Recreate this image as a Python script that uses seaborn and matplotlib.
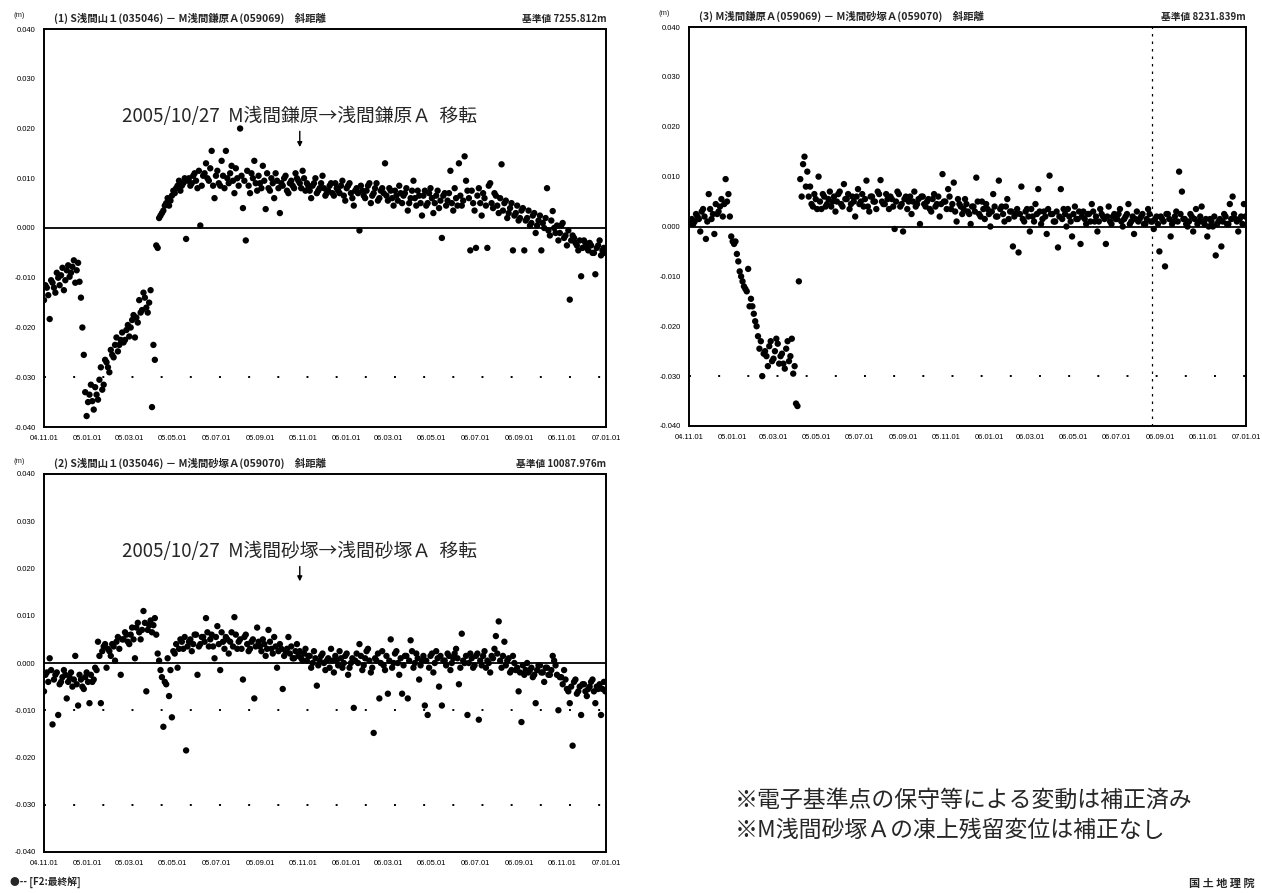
import numpy as np
import pandas as pd
import matplotlib
matplotlib.use("Agg")
import matplotlib.pyplot as plt
import seaborn as sns

sns.set_theme(style="white")
plt.rcParams["font.family"] = ["Noto Sans CJK JP", "DejaVu Sans"]

# observations: set A on days 0,4,8,... and set B on days 2,6,10,... from 2004-11-01
start = pd.Timestamp("2004-11-01")
end = pd.Timestamp("2007-01-01")
step_days = 4
offset_b = 2

# (1) S浅間山1 - M浅間鎌原A  [mm]
p1_mm = [-14.5, -12.0, -18.3, -11.0, -13.0, -10.0, -9.5, -12.5, -8.5, -9.8,
         -7.8, -11.0, -7.0, -14.0, -25.5, -37.8, -33.5, -34.8, -32.0, -34.5,
         -28.0, -31.5, -27.0, -29.0, -25.5, -23.5, -24.8, -22.5, -23.0, -20.5,
         -21.8, -18.5, -22.0, -19.0, -17.0, -13.0, -16.0, -15.0, -36.0, -26.5,
         -4.0, 2.5, 3.5, 5.0, 4.5, 6.5, 7.0, 8.5, 7.5, 9.0,
         -2.2, 10.0, 9.0, 11.0, 8.0, 0.5, 10.5, 13.0, 9.5, 15.5,
         6.0, 11.5, 8.5, 10.5, 15.5, 9.0, 12.5, 7.0, 10.0, 20.0,
         4.0, -2.5, 8.5, 11.0, 13.5, 7.5, 9.0, 12.5, 3.8, 8.0,
         10.0, 6.0, 9.5, 3.0, 8.5, 10.5, 7.0, 9.5, 8.0, 10.0,
         9.0, 11.5, 7.5, 8.5, 6.0, 9.0, 7.0, 8.0, 10.5, 6.5,
         7.5, 9.0, 6.5, 8.0, 7.0, 9.5, 5.5, 8.5, 7.0, 4.5,
         8.0, -0.5, 7.5, 6.0, 8.5, 5.0, 7.0, 9.0, 6.0, 8.0,
         13.0, 5.5, 7.5, 4.5, 6.5, 8.5, 5.0, 7.0, 3.5, 6.0,
         9.5, 4.5, 6.5, 2.5, 7.5, 5.0, 8.0, 3.0, 6.5, 4.0,
         -2.0, 7.0, 5.5, 11.5, 3.5, 6.0, 13.0, 4.5, 14.4, 7.5,
         -4.5, 5.0, -4.0, 8.0, 2.5, 6.0, -4.0, 9.0, 4.0, 6.5,
         3.0, 12.8, 5.0, 2.0, 4.0, -4.5, 3.0, 1.5, 3.5, -4.5,
         2.0, 0.5, 2.5, -1.0, 1.5, -4.5, 0.0, 8.0, -1.5, 3.4,
         -1.0, -2.5, 0.5, -2.0, -3.5, -14.4, -1.5, -3.0, -4.5, -9.7,
         -2.5, -4.0, -3.0, -5.0, -9.3, -3.5, -5.5, -4.0]
p1b_mm = [-11.5, -13.5, -10.5, -12.0, -9.0, -11.5, -8.0, -10.5, -7.5, -9.0,
          -6.5, -8.5, -10.8, -20.0, -33.0, -35.0, -31.5, -36.5, -33.5, -30.5,
          -32.5, -26.5, -28.0, -24.5, -26.0, -22.0, -23.5, -21.0, -22.5, -19.5,
          -20.0, -17.5, -18.0, -14.5, -16.5, -14.0, -17.0, -12.5, -23.5, -3.5,
          2.0, 3.0, 4.5, 6.0, 5.5, 7.5, 8.0, 9.5, 8.5, 10.0,
          9.5, 8.5, 10.5, 9.5, 11.5, 8.5, 11.0, 10.0, 12.0, 8.5,
          10.5, 9.0, 13.5, 8.0, 10.0, 11.0, 9.5, 12.0, 8.5, 10.5,
          9.5, 11.5, 7.0, 10.0, 9.0, 10.5, 8.0, 9.5, 11.0, 7.5,
          9.0, 11.0, 8.0, 9.0, 10.0, 7.5, 9.0, 8.5, 11.0, 9.5,
          8.0, 10.0, 9.0, 7.5, 8.5, 10.0, 7.5, 9.0, 8.0, 7.0,
          8.5, 7.0, 9.0, 7.5, 8.5, 6.5, 8.0, 9.0, 6.0, 7.5,
          7.0, 8.5, 6.5, 7.5, 9.0, 6.5, 8.0, 5.5, 7.5, 7.0,
          6.5, 8.0, 6.0, 7.5, 5.5, 7.0, 6.5, 8.0, 5.0, 7.5,
          6.0, 7.5, 5.0, 6.5, 4.5, 7.0, 6.0, 5.0, 7.5, 5.5,
          6.5, 4.5, 7.0, 5.0, 8.0, 4.5, 6.5, 5.5, 9.5, 6.0,
          7.5, 3.5, 6.5, 5.0, 7.0, 4.5, 8.5, 5.0, 7.0, 4.5,
          6.0, 3.5, 5.5, 3.0, 5.0, 2.5, 4.5, 2.0, 4.0, 1.5,
          3.5, 1.0, 3.0, 0.5, 2.5, 1.0, 2.0, -0.5, 1.5, 0.0,
          0.5, -1.0, 1.0, -1.5, -0.5, -2.5, -2.0, -3.5, -2.5, -4.0,
          -3.0, -4.5, -3.5, -5.0, -4.0, -2.5, -4.5, -5.0]

# (2) S浅間山1 - M浅間砂塚A  [mm]
p2_mm = [-6.0, -2.0, 1.0, -13.0, -2.5, -11.0, -4.0, -1.5, -7.5, -3.0,
         -5.0, 1.5, -9.0, -3.5, -5.5, -2.0, -8.5, -4.0, -1.0, 4.5,
         -8.5, 3.5, -1.0, 2.5, 4.0, 0.5, 5.5, -2.5, 5.0, 6.0,
         4.0, 7.5, 1.0, 8.5, 5.0, 11.0, -6.0, 8.0, 6.5, 9.5,
         2.0, -1.5, -13.5, -4.5, -7.0, -11.5, 2.0, -1.0, 5.0, 3.0,
         -18.5, 4.5, 2.5, 6.0, -2.5, 4.0, 5.5, 9.5, 3.5, 6.0,
         1.0, 7.8, -1.5, 4.5, 5.5, 2.0, 6.5, 9.7, 3.0, 5.0,
         -3.5, 6.0, 2.5, 4.5, -7.5, 7.5, 3.5, 5.0, 1.5, 7.0,
         3.0, 5.5, -1.0, 4.0, -5.5, 2.5, 5.5, 3.5, 1.0, 4.0,
         2.5, 0.5, 3.0, 1.5, -1.0, 2.5, -4.8, 0.5, 2.0, -1.5,
         1.0, 3.0, -2.0, 0.5, 2.5, -1.0, 1.5, -2.5, 0.0, -9.5,
         2.0, 4.0, -1.5, 1.0, 3.0, -2.0, -14.8, 0.5, -7.5, 2.5,
         -1.5, -6.5, 5.0, 0.0, 2.5, -2.5, -6.5, 1.5, -7.5, 4.8,
         -1.0, 2.0, -3.5, 0.5, -9.0, -11.0, 1.5, -2.0, 2.5, -5.0,
         -9.0, 0.5, 2.0, -1.5, 1.0, 3.0, -4.5, 6.2, 0.0, -11.0,
         2.0, -1.0, 1.5, -12.0, -0.5, 2.5, 0.5, -2.0, 1.0, 5.7,
         8.8, -1.0, 4.5, 0.5, -2.0, 1.5, -1.5, -6.0, -12.5, -2.5,
         0.0, -1.5, -3.0, -8.5, -0.5, -2.0, -4.0, -1.0, -2.5, 1.5,
         -0.5, -10.0, -3.0, -1.5, -5.5, -8.5, -17.5, -3.5, -6.0, -11.0,
         -4.5, -7.0, -5.0, -3.5, -8.5, -5.5, -11.0, -4.0]
p2b_mm = [-2.5, -4.0, -1.5, -3.5, -2.0, -4.5, -3.0, -2.5, -4.0, -2.0,
          -3.5, -4.5, -2.5, -5.0, -3.0, -4.0, -2.5, -3.5, -1.5, 1.5,
          2.5, 4.0, 3.0, 1.5, 3.5, 4.5, 3.0, 5.0, 6.5, 4.5,
          6.0, 5.0, 7.5, 6.5, 7.0, 8.5, 7.0, 9.0, 8.0, 6.0,
          0.5, -3.0, -4.0, 1.0, -1.5, 2.5, 4.0, 3.0, 4.5, 5.5,
          3.5, 5.0, 4.0, 6.0, 3.5, 5.5, 4.5, 6.5, 5.0, 3.5,
          5.5, 4.0, 6.5, 3.0, 5.0, 4.5, 3.5, 6.0, 4.5, 3.0,
          5.5, 4.0, 3.0, 5.0, 3.5, 4.5, 2.5, 4.0, 3.0, 4.5,
          2.0, 3.5, 2.5, 3.0, 1.5, 3.0, 2.0, 1.0, 2.5, 1.5,
          1.0, 2.0, 0.5, 1.5, 0.0, 1.0, -0.5, 1.5, 0.0, 0.5,
          -1.0, 0.5, 1.5, -0.5, 1.0, 0.0, 2.0, -1.0, 1.0, 0.5,
          0.0, 1.5, -0.5, 2.5, 0.5, -1.0, 1.0, 2.0, 0.0, -0.5,
          1.5, 0.5, -1.0, 2.0, 0.0, 1.0, -0.5, 1.5, 0.5, 2.5,
          0.0, 1.0, -0.5, 1.5, 0.5, -1.0, 2.0, 0.0, 1.0, 1.5,
          0.5, -0.5, 1.5, 0.0, 2.0, 1.0, -1.0, 0.5, 1.5, 0.0,
          1.0, -0.5, 2.0, 0.5, 1.5, -1.0, 0.0, 1.5, 3.0, 2.0,
          0.5, 1.5, -0.5, 1.0, -1.5, 0.0, -1.0, -2.0, -0.5, -1.5,
          -2.0, -1.0, -2.5, -1.5, -0.5, -2.0, -1.0, -2.5, -1.5, 0.5,
          -2.5, -3.0, -4.5, -3.5, -6.0, -5.0, -4.0, -6.5, -5.0, -4.5,
          -6.0, -5.5, -4.0, -6.0, -5.0, -4.5, -5.5, -6.0]

# (3) M浅間鎌原A - M浅間砂塚A  [mm]
p3_mm = [0.5, 1.5, 1.0, 2.0, -1.0, 3.5, -2.5, 6.5, 1.5, -1.5,
         2.5, 4.0, 2.0, 9.5, 6.5, -2.0, -3.5, -5.5, -9.0, -11.0,
         -12.5, -8.5, -14.5, -17.5, -20.0, -24.5, -30.0, -25.0, -28.0, -23.0,
         -26.5, -22.5, -27.5, -25.5, -28.5, -23.0, -26.0, -29.5, -35.5, -11.0,
         6.0, 14.0, 11.0, 8.0, 4.0, 5.5, 10.0, 3.5, 6.0, 4.5,
         7.0, 5.0, 3.0, 6.5, 4.5, 8.5, 5.5, 3.5, 6.0, 2.0,
         7.5, 5.0, 4.0, 9.2, 3.0, 6.0, 5.0, 7.0, 9.3, 4.5,
         6.5, 3.5, 5.5, -0.5, 7.0, 4.0, -1.0, 6.0, 5.0, 2.5,
         7.0, 4.5, 0.5, 6.0, 4.0, 5.5, 3.0, 6.5, 4.5, 2.0,
         10.5, 5.0, 7.5, 3.5, 8.8, 1.0, 4.5, 2.5, 5.5, 3.0,
         0.5, 4.0, 9.8, 2.5, 5.0, 1.5, 3.5, 0.0, 6.5, 2.0,
         9.2, 4.0, 1.0, 5.5, 3.0, -4.0, 2.5, -5.2, 8.0, 1.0,
         3.5, -1.0, 2.0, 4.5, 7.5, 0.5, 3.0, -1.5, 10.2, 2.5,
         1.0, -4.2, 7.5, 3.5, 0.0, 2.0, -2.0, 4.0, 1.5, -3.5,
         3.0, 0.5, 2.5, 4.5, 1.0, -1.0, 3.5, 2.0, -3.5, 4.0,
         0.5, 2.5, 1.5, 3.5, 0.0, 2.0, 4.5, 1.0, -1.5, 3.0,
         1.5, 2.5, 0.5, 3.5, 1.0, -0.5, 2.0, -5.0, 1.5, -8.0,
         2.5, -2.0, 1.0, 3.0, 11.0, 7.0, 1.5, 0.0, 2.5, -1.0,
         3.5, 1.0, 4.0, 0.5, -2.0, 1.5, 0.0, -5.8, 1.0, -4.0,
         2.5, 0.5, 4.5, 6.0, 1.5, -1.0, 2.0, 4.5]
p3b_mm = [1.0, 0.5, 2.5, 1.5, 3.0, 2.0, 1.0, 3.5, 2.5, 4.5,
          3.0, 5.5, 4.5, 5.0, 2.0, -3.0, -3.0, -7.0, -10.0, -12.0,
          -13.0, -16.0, -16.0, -19.0, -22.0, -23.0, -25.5, -26.0, -24.0, -27.0,
          -25.0, -23.5, -26.0, -27.5, -24.5, -27.0, -22.5, -28.0, -36.0, 9.5,
          12.5, 8.0, 6.0, 4.5, 6.5, 3.5, 5.0, 6.5, 4.0, 5.5,
          4.0, 6.0, 5.0, 7.0, 4.0, 5.5, 6.5, 4.5, 5.0, 6.0,
          4.5, 6.5, 5.5, 4.0, 6.0, 5.0, 3.5, 6.5, 5.0, 4.5,
          5.5, 6.0, 4.0, 5.0, 6.5, 4.5, 5.5, 3.5, 6.0, 5.0,
          4.0, 5.5, 6.0, 4.5, 5.0, 3.5, 5.5, 4.0, 6.0, 4.5,
          5.0, 3.5, 6.0, 4.5, 3.0, 5.5, 4.0, 3.5, 4.5, 2.5,
          4.0, 3.0, 5.0, 2.0, 3.5, 4.5, 2.5, 3.0, 4.0, 2.0,
          3.5, 2.5, 4.0, 1.5, 3.0, 2.0, 3.5, 2.5, 1.5, 3.0,
          2.0, 3.5, 1.0, 2.5, 3.0, 1.5, 2.0, 3.5, 2.5, 1.0,
          3.0, 2.0, 1.5, 2.5, 3.5, 1.0, 2.5, 1.5, 3.0, 2.0,
          1.5, 2.5, 1.0, 3.0, 2.0, 1.0, 2.5, 1.5, 2.0, 1.0,
          2.0, 1.5, 2.5, 1.0, 1.5, 2.5, 0.5, 2.0, 1.5, 1.0,
          2.0, 0.5, 1.5, 2.5, 1.0, 1.5, 0.5, 2.0, 1.0, 2.5,
          1.5, 0.5, 2.0, 1.0, 2.5, 1.5, 0.5, 1.0, 2.0, 1.5,
          0.5, 2.0, 1.0, 1.5, 0.0, 1.0, 2.0, 0.5, 1.5, 1.0,
          2.0, 0.5, 1.5, 2.5, 1.0, 1.5, 0.5, 2.0]

titles = ["(1) S浅間山１(035046) － M浅間鎌原Ａ(059069)　斜距離",
          "(2) S浅間山１(035046) － M浅間砂塚Ａ(059070)　斜距離",
          "(3) M浅間鎌原Ａ(059069) － M浅間砂塚Ａ(059070)　斜距離"]
base_values = ["基準値 7255.812m", "基準値 10087.976m", "基準値 8231.839m"]
move_notes = ["2005/10/27  M浅間鎌原→浅間鎌原Ａ  移転",
              "2005/10/27  M浅間砂塚→浅間砂塚Ａ  移転", None]
move_date = pd.Timestamp("2005-10-27")
p3_vline = pd.Timestamp("2006-08-20")
y_ticks = [-0.04, -0.03, -0.02, -0.01, 0.0, 0.01, 0.02, 0.03, 0.04]
x_ticks = pd.date_range(start, end, freq="2MS")

W, H = 1262, 893
fig = plt.figure(figsize=(W / 100, H / 100), dpi=100)
fig.patch.set_facecolor("white")


def rect(l, t, r, b):
    return [l / W, 1 - b / H, (r - l) / W, (b - t) / H]


boxes = [rect(44, 29, 606, 427), rect(44, 474, 606, 852), rect(689, 27, 1246, 426)]
series = [(p1_mm, p1b_mm), (p2_mm, p2b_mm), (p3_mm, p3b_mm)]
dotted = [[-0.03], [-0.01, -0.03], [-0.03]]
note_y = [0.0225, 0.0235]

for k in range(3):
    ax = fig.add_axes(boxes[k])
    va = np.array(series[k][0]) / 1000.0
    vb = np.array(series[k][1]) / 1000.0
    da = start + pd.to_timedelta(np.arange(len(va)) * step_days, unit="D")
    db = start + pd.to_timedelta(np.arange(len(vb)) * step_days + offset_b, unit="D")
    df = pd.DataFrame({"date": np.concatenate([da, db]),
                       "value": np.concatenate([va, vb])})
    sns.scatterplot(data=df, x="date", y="value", ax=ax, color="black",
                    s=21, edgecolor="none", linewidth=0, zorder=3)
    ax.set_xlim(start, end)
    ax.set_ylim(-0.04, 0.04)
    ax.axhline(0, color="black", lw=1.3, zorder=2)
    for yv in dotted[k]:
        ax.axhline(yv, color="black", lw=1.4, linestyle=(0, (1, 14)), zorder=1)
    if k == 2:
        ax.axvline(p3_vline, color="black", lw=0.9, linestyle=(0, (2, 4)), zorder=1)
    ax.set_xticks(x_ticks)
    ax.set_xticklabels([d.strftime("%y.%m.%d") for d in x_ticks],
                       fontsize=5.5, family="Liberation Sans")
    ax.set_yticks(y_ticks)
    ax.set_yticklabels([f"{v:.3f}" for v in y_ticks],
                       fontsize=5.5, family="Liberation Sans")
    ax.tick_params(axis="both", direction="in", length=2, width=0.8,
                   colors="black", pad=6)
    ax.set_xlabel("")
    ax.set_ylabel("")
    for sp in ax.spines.values():
        sp.set_color("black")
        sp.set_linewidth(1.4)
    ax.text(0.018, 1.012, titles[k], transform=ax.transAxes, fontsize=7.5,
            fontweight="bold", ha="left", va="bottom")
    ax.text(1.0, 1.012, base_values[k], transform=ax.transAxes, fontsize=7,
            fontweight="bold", ha="right", va="bottom")
    ax.text(-0.045, 1.025, "(m)", transform=ax.transAxes, fontsize=5.5,
            ha="center", va="bottom", family="Liberation Sans")
    if move_notes[k]:
        ax.text(move_date, note_y[k], move_notes[k], fontsize=13.5,
                ha="center", va="center")
        ax.annotate("", xy=(move_date, note_y[k] - 0.0068),
                    xytext=(move_date, note_y[k] - 0.0025),
                    arrowprops=dict(arrowstyle="-|>", color="black", lw=1,
                                    mutation_scale=7))

fig.text(10 / W, 1 - 882 / H, "●-- [F2:最終解]", fontsize=7, fontweight="bold",
         ha="left", va="center")
fig.text(735 / W, 1 - 800 / H, "※電子基準点の保守等による変動は補正済み",
         fontsize=16.5, ha="left", va="center")
fig.text(735 / W, 1 - 830 / H, "※M浅間砂塚Ａの凍上残留変位は補正なし",
         fontsize=16.5, ha="left", va="center")
fig.text(1255 / W, 1 - 883 / H, "国 土 地 理 院", fontsize=8, fontweight="bold",
         ha="right", va="center")

fig.savefig("out.png", dpi=100, facecolor="white")
